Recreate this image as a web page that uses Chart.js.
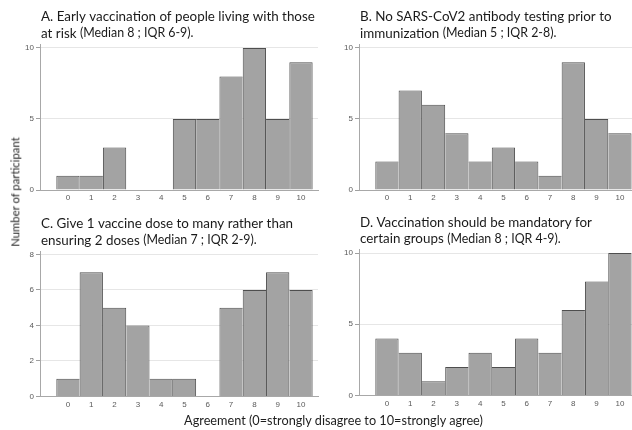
<!DOCTYPE html>
<html><head><meta charset="utf-8">
<script src="https://cdn.jsdelivr.net/npm/chart.js@4"></script>
<style>
html,body{margin:0;padding:0;background:#fff;width:632px;height:430px;overflow:hidden;position:relative;}
canvas{position:absolute;left:0;top:0;}
.lab{position:absolute;font-family:Lato,sans-serif;color:#1e1e1e;white-space:nowrap;line-height:1;}
#xlab{left:333.5px;top:420px;font-size:12.7px;transform:translate(-50%,-50%);}
#ylab{left:15px;top:191.5px;font-size:11.3px;transform:translate(-50%,-50%) rotate(-90deg);}
</style></head><body>
<canvas id="cA" width="632" height="430"></canvas>
<canvas id="cB" width="632" height="430"></canvas>
<canvas id="cC" width="632" height="430"></canvas>
<canvas id="cD" width="632" height="430"></canvas>
<div class="lab" id="xlab">Agreement (0=strongly disagree to 10=strongly agree)</div>
<div class="lab" id="ylab">Number of participant</div>
<script>
// ---- data ----
const categories = [0,1,2,3,4,5,6,7,8,9,10];
const xTickLabels = ['0','1','2','3','4','5','6','7','8','9','10'];
const valuesA = [1,1,3,0,0,5,5,8,10,5,9];
const valuesB = [2,7,6,4,2,3,2,1,9,5,4];
const valuesC = [1,7,5,4,1,1,0,5,6,7,6];
const valuesD = [4,3,1,2,3,2,4,3,6,8,10];
const yTicksA = [0,5,10];
const yTicksB = [0,5,10];
const yTicksC = [0,2,4,6,8];
const yTicksD = [0,5,10];
const titleA = ['A. Early vaccination of people living with those','at risk ','(Median 8 ; IQR 6-9).'];
const titleB = ['B. No SARS-CoV2 antibody testing prior to','immunization ','(Median 5 ; IQR 2-8).'];
const titleC = ['C. Give 1 vaccine dose to many rather than','ensuring 2 doses ','(Median 7 ; IQR 2-9).'];
const titleD = ['D. Vaccination should be mandatory for','certain groups ','(Median 8 ; IQR 4-9).'];

// ---- layout (page pixels) ----
const W = 632, H = 430;
const panels = [
  {id:'cA', values:valuesA, yTicks:yTicksA, title:titleA, cl:40,  ct:44,    cr:318, cb:190,   xmin:-1.2, xmax:10.73, ymax:10.28},
  {id:'cB', values:valuesB, yTicks:yTicksB, title:titleB, cl:359, ct:44,    cr:632, cb:190,   xmin:-1.2, xmax:10.52, ymax:10.28},
  {id:'cC', values:valuesC, yTicks:yTicksC, title:titleC, cl:40,  ct:251,   cr:318, cb:396.5, xmin:-1.2, xmax:10.73, ymax:8.19},
  {id:'cD', values:valuesD, yTicks:yTicksD, title:titleD, cl:359, ct:249.5, cr:632, cb:395.5, xmin:-1.2, xmax:10.52, ymax:10.25}
];

const titlePlugin = {
  id: 'ptitle',
  afterDraw(chart, args, opts) {
    const ctx = chart.ctx, a = chart.chartArea;
    ctx.save();
    ctx.fillStyle = '#1a1a1a';
    ctx.textBaseline = 'middle';
    ctx.textAlign = 'left';
    const x = a.left + 1;
    ctx.font = '13.4px Lato';
    ctx.fillText(opts.lines[0], x, a.top - 27.3);
    ctx.fillText(opts.lines[1], x, a.top - 10.8);
    const w = ctx.measureText(opts.lines[1]).width;
    ctx.font = '12.4px Lato';
    ctx.fillText(opts.lines[2], x + w, a.top - 10.8);
    ctx.restore();
  }
};

function borderFor(vals) {
  return (ctx) => {
    const i = ctx.dataIndex;
    const h = vals[i];
    if (!h) return {top:0,left:0,right:0,bottom:0};
    const prev = vals[i-1], next = vals[i+1];
    const left = (prev === undefined || prev < h) ? 1 : 0;
    const right = (next === undefined || h >= next) ? 1 : 0;
    return {top:1, left:left, right:right, bottom:0};
  };
}

const XH = 20;
panels.forEach(p => {
  const data = categories.map((c, i) => ({x: c, y: p.values[i]}));
  new Chart(document.getElementById(p.id), {
    type: 'bar',
    data: { datasets: [{
      data: data,
      backgroundColor: '#a3a3a3',
      borderColor: '#4e4e4e',
      borderWidth: borderFor(p.values),
      borderSkipped: false,
      inflateAmount: 0,
      barPercentage: 1,
      categoryPercentage: 1
    }]},
    plugins: [titlePlugin],
    options: {
      responsive: false,
      animation: false,
      events: [],
      layout: { padding: { left: 0, top: p.ct, right: W - p.cr, bottom: H - p.cb - XH } },
      plugins: {
        legend: { display: false },
        tooltip: { enabled: false },
        ptitle: { lines: p.title }
      },
      scales: {
        x: {
          type: 'linear',
          offset: false,
          min: p.xmin, max: p.xmax,
          grid: { display: false, drawTicks: false, offset: false },
          border: { display: true, color: '#a8a8a8', width: 1 },
          afterBuildTicks: (s) => { s.ticks = categories.map(v => ({value: v})); },
          afterFit: (s) => { s.height = XH; s.paddingLeft = 0; s.paddingRight = 0; },
          ticks: {
            autoSkip: false, maxRotation: 0, padding: 3,
            color: '#5a5a5a', font: { family: 'Liberation Sans', size: 8 },
            callback: (v, i) => xTickLabels[i]
          }
        },
        y: {
          type: 'linear',
          min: 0, max: p.ymax,
          grid: { color: '#e6e6e6', lineWidth: 1, drawTicks: true, tickLength: 4, tickColor: '#a0a0a0' },
          border: { display: true, color: '#a8a8a8', width: 1 },
          afterBuildTicks: (s) => { s.ticks = p.yTicks.map(v => ({value: v})); },
          afterFit: (s) => { s.width = p.cl; s.paddingTop = 0; s.paddingBottom = 0; },
          ticks: {
            padding: 2, color: '#5a5a5a', font: { family: 'Liberation Sans', size: 8 },
            callback: (v) => String(v)
          }
        }
      }
    }
  });
});
</script>
</body></html>
